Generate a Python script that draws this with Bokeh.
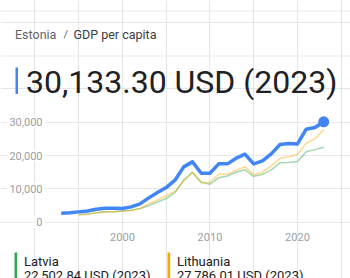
from bokeh.plotting import figure
from bokeh.models import Range1d, FixedTicker, Grid
from bokeh.core.properties import value
from bokeh.embed import file_html
from bokeh.resources import INLINE

# ---------------- data ----------------
years_estonia = list(range(1993, 2024))
estonia = [2700, 2850, 3100, 3350, 3900, 4200, 4200, 4100, 4600, 5500,
           7300, 8900, 10400, 12600, 16600, 18100, 14700, 14700, 17500, 17500,
           19200, 20400, 17500, 18400, 20500, 23300, 23600, 23500, 27900, 28400,
           30133.30]
years_baltic = list(range(1995, 2024))
latvia = [2330, 2500, 2800, 3050, 3170, 3350, 3570, 4100, 4960, 6050,
          7100, 8900, 12650, 15000, 11960, 11400, 13350, 13830, 15050, 15730,
          13780, 14330, 15700, 17860, 17880, 18200, 21150, 21780, 22502.84]
lithuania = [2170, 2330, 2850, 3180, 3110, 3300, 3530, 4120, 5470, 6720,
             7860, 9230, 12280, 14930, 11830, 11990, 14380, 14360, 15710, 16550,
             14260, 15010, 16890, 19180, 19600, 20360, 23690, 25000, 27786.01]
y_ticks = [0, 10000, 20000, 30000]
x_ticks = [2000, 2010, 2020]

FONT = value("Roboto")
BLUE = "#4285F4"
GREEN = "#34A853"
ORANGE = "#F9AB00"
DARK = "#202124"
GRAY = "#5f6368"
TICK = "#9aa0a6"
W, H = 350, 278

# the frame fills the whole canvas; the chart's own scales place the data
p = figure(width=W, height=H, x_range=Range1d(1986.06, 2026.06),
           y_range=Range1d(-16890, 66516), x_axis_location=None, y_axis_location=None,
           output_backend="svg", toolbar_location=None, min_border=0)
p.outline_line_color = None
# pixel ranges for the page furniture (y grows downwards)
p.extra_x_ranges = {"px": Range1d(0, W)}
p.extra_y_ranges = {"py": Range1d(H, 0)}

p.add_layout(Grid(dimension=1, ticker=FixedTicker(ticks=y_ticks),
                  grid_line_color="#e8eaed", grid_line_width=1))

# y tick labels (values from y_ticks, placed by the y scale)
p.text(x=[44] * len(y_ticks), y=y_ticks, text=[f"{t:,}" for t in y_ticks],
       x_range_name="px", text_font=FONT, text_font_size="11px", text_color=TICK,
       text_align="right", text_baseline="middle",
       background_fill_color="white", padding=2)
# x tick labels (values from x_ticks, placed by the x scale)
p.text(x=x_ticks, y=[236] * len(x_ticks), text=[str(t) for t in x_ticks],
       y_range_name="py", text_font=FONT, text_font_size="11px", text_color=TICK,
       text_align="center", text_baseline="middle")

# series
p.line(years_baltic, latvia, line_color=GREEN, line_alpha=0.45, line_width=1.5)
p.line(years_baltic, lithuania, line_color=ORANGE, line_alpha=0.45, line_width=1.5)
p.line(years_estonia, estonia, line_color=BLUE, line_width=3.5, line_join="round")
p.scatter([years_estonia[-1]], [estonia[-1]], size=11, fill_color=BLUE, line_color=None)


def rect(l, r, t, b, color):
    p.quad(left=[l], right=[r], top=[t], bottom=[b], x_range_name="px",
           y_range_name="py", fill_color=color, line_color=None)


def label(x, y, text, size, color):
    p.text(x=[x], y=[y], text=[text], x_range_name="px", y_range_name="py",
           text_font=FONT, text_font_size=size, text_color=color,
           text_baseline="middle", text_align="left")


# header
rect(0, W, 10, 11, "#e8eaed")
rect(0, W, 55, 56, "#e8eaed")
label(14.5, 33.5, "Estonia", "12.5px", GRAY)
label(63, 33.5, "/", "11px", GRAY)
label(73, 33.5, "GDP per capita", "12.5px", "#3c4043")
rect(15, 17.5, 67, 93.5, BLUE)
label(25.5, 81.5, f"{estonia[-1]:,.2f} USD ({years_estonia[-1]})", "32px", DARK)

# legend
rect(14, 16.7, 252, H, GREEN)
rect(167, 169.7, 252, H, ORANGE)
label(23.5, 260.5, "Latvia", "13px", DARK)
label(176.5, 260.5, "Lithuania", "13px", DARK)
label(23.5, 274.5, f"{latvia[-1]:,.2f} USD ({years_baltic[-1]})", "13px", DARK)
label(176.5, 274.5, f"{lithuania[-1]:,.2f} USD ({years_baltic[-1]})", "13px", DARK)

open("out.html", "w").write(file_html(p, INLINE))
